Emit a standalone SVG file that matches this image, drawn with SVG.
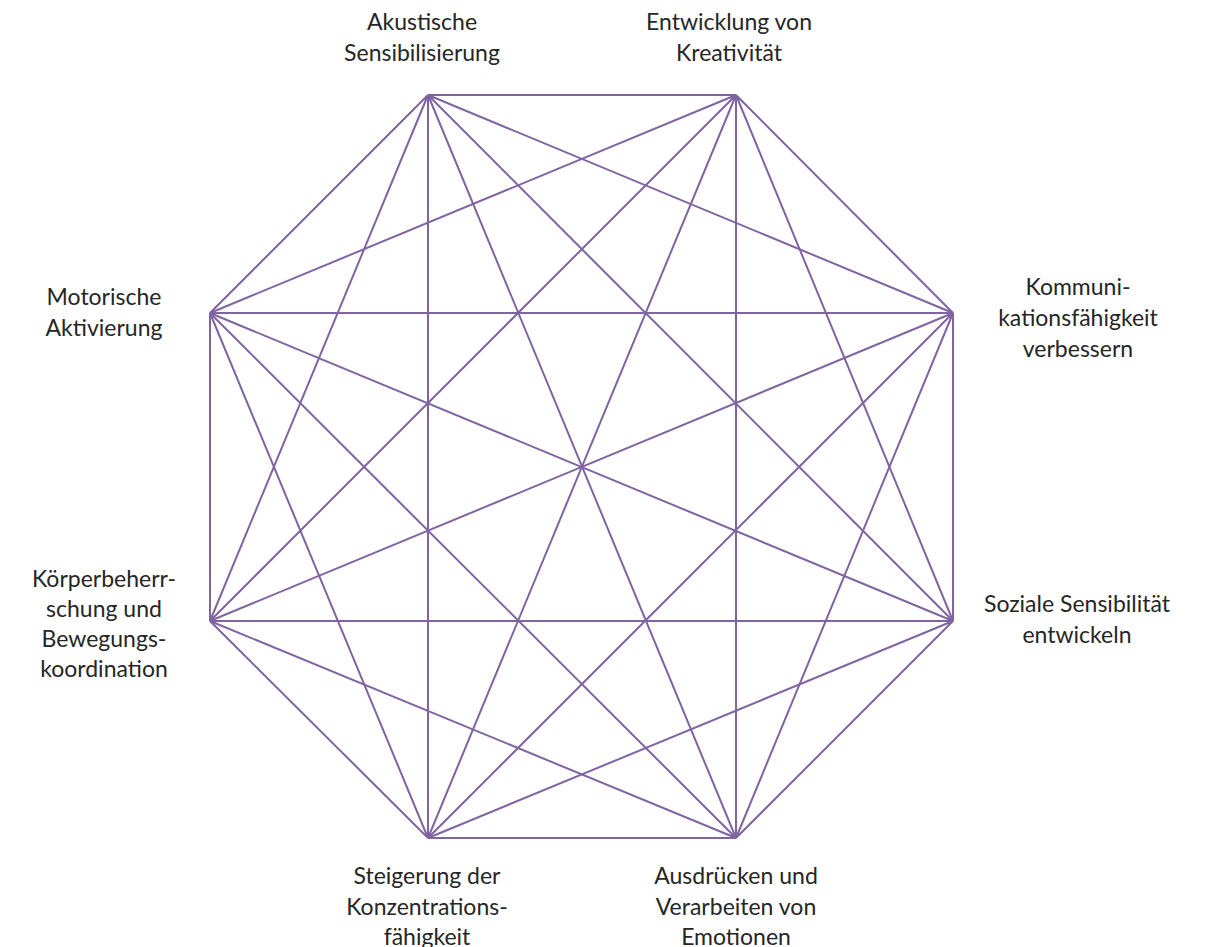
<svg xmlns="http://www.w3.org/2000/svg" width="1207" height="947" viewBox="0 0 1207 947">
<style>
.e{stroke:#8064a2;stroke-width:2;fill:none}
.t{font-family:Lato,"Open Sans",sans-serif;font-size:23px;fill:#262626;text-anchor:middle}
</style>
<rect width="1207" height="947" fill="#fff"/>
<g id="connectors">
<path class="e" d="M428,95L736,95M428,95L953,313M428,95L953,621M428,95L736,838M428,95L428,838M428,95L210,621M428,95L210,313"/>
<path class="e" d="M736,95L953,313M736,95L953,621M736,95L736,838M736,95L428,838M736,95L210,621M736,95L210,313"/>
<path class="e" d="M953,313L953,621M953,313L736,838M953,313L428,838M953,313L210,621M953,313L210,313"/>
<path class="e" d="M953,621L736,838M953,621L428,838M953,621L210,621M953,621L210,313"/>
<path class="e" d="M736,838L428,838M736,838L210,621M736,838L210,313"/>
<path class="e" d="M428,838L210,621M428,838L210,313"/>
<path class="e" d="M210,621L210,313"/>
</g>
<g id="n1"><text class="t" x="422" y="30">Akustische</text><text class="t" x="422" y="61">Sensibilisierung</text></g>
<g id="n2"><text class="t" x="729" y="30">Entwicklung von</text><text class="t" x="729" y="61">Kreativität</text></g>
<g id="n3"><text class="t" x="1078" y="295">Kommuni-</text><text class="t" x="1078" y="326">kationsfähigkeit</text><text class="t" x="1078" y="357">verbessern</text></g>
<g id="n4"><text class="t" x="1077" y="612">Soziale Sensibilität</text><text class="t" x="1077" y="643">entwickeln</text></g>
<g id="n5"><text class="t" x="736" y="884">Ausdrücken und</text><text class="t" x="736" y="915">Verarbeiten von</text><text class="t" x="736" y="945">Emotionen</text></g>
<g id="n6"><text class="t" x="427" y="884">Steigerung der</text><text class="t" x="427" y="915">Konzentrations-</text><text class="t" x="427" y="945">fähigkeit</text></g>
<g id="n7"><text class="t" x="104" y="587">Körperbeherr-</text><text class="t" x="104" y="617">schung und</text><text class="t" x="104" y="647">Bewegungs-</text><text class="t" x="104" y="677">koordination</text></g>
<g id="n8"><text class="t" x="104" y="305">Motorische</text><text class="t" x="104" y="336">Aktivierung</text></g>
</svg>
